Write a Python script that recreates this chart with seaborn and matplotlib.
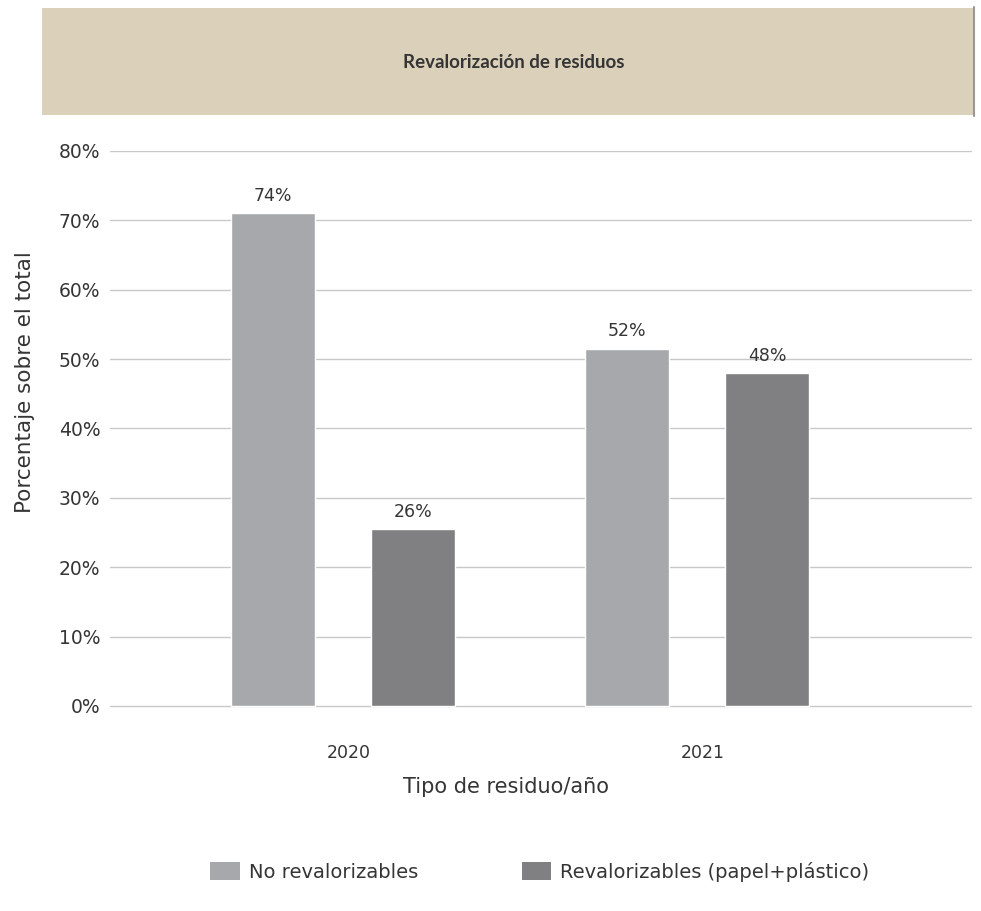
import numpy as np
import pandas as pd
import matplotlib
matplotlib.use('Agg')
import matplotlib.pyplot as plt
import matplotlib.transforms as mtransforms
from matplotlib.patches import Rectangle, Patch
from matplotlib.lines import Line2D
import seaborn as sns

# data
years = ['2020', '2021']
series = ['No revalorizables', 'Revalorizables (papel+plástico)']
no_reval = [71.0, 51.5]
reval = [25.5, 48.0]
no_reval_labels = ['74%', '52%']
reval_labels = ['26%', '48%']
y_ticks = [0, 10, 20, 30, 40, 50, 60, 70, 80]

colors = ['#a7a8ab', '#808083']
text_color = '#353535'

sns.set_style('white')
plt.rcParams['font.family'] = ['DejaVu Sans']

df = pd.DataFrame({
    'year': years * 2,
    'tipo': [series[0]] * 2 + [series[1]] * 2,
    'value': no_reval + reval,
})

fig = plt.figure(figsize=(9.81, 9.11), dpi=100)
# axes: 80% line at y=151 px, 0% line at y=706 px
ax = fig.add_axes([110 / 981, 203 / 911, 862 / 981, 557 / 911])

sns.barplot(data=df, x='year', y='value', hue='tipo', hue_order=series,
            palette=colors, width=0.79, gap=0.4, saturation=1, ax=ax,
            legend=False, errorbar=None)

for cont, labs in zip(ax.containers, [no_reval_labels, reval_labels]):
    ax.bar_label(cont, labels=labs, padding=6, fontsize=12.5, color=text_color)

ax.set_ylim(-0.3, 80)
ax.set_xlim(-0.659, 1.776)
ax.set_yticks(y_ticks)
ax.set_yticklabels([f'{t}%' for t in y_ticks], fontsize=13.5, color=text_color)
ax.tick_params(axis='y', length=0, pad=7)
ax.tick_params(axis='x', length=0, pad=26, labelsize=12.5, labelcolor=text_color)
shift = mtransforms.ScaledTranslation(5 / 100, 0, fig.dpi_scale_trans)
for lab in ax.get_xticklabels():
    lab.set_transform(lab.get_transform() + shift)
ax.yaxis.grid(True, color='#c8c8c8', linewidth=1)
ax.set_axisbelow(True)
for s in ax.spines.values():
    s.set_visible(False)
ax.set_xlabel('')
ax.set_ylabel('')

# header band
fig.patches.append(Rectangle((42 / 981, (911 - 115) / 911), 931 / 981, 107 / 911,
                             transform=fig.transFigure, facecolor='#dbd0b9',
                             edgecolor='none', zorder=0))
fig.add_artist(Line2D([974 / 981, 974 / 981], [(911 - 116) / 911, (911 - 7) / 911],
                      transform=fig.transFigure, color='#9a9690', linewidth=1.5))
fig.text(514 / 981, (911 - 62) / 911, 'Revalorización de residuos', ha='center',
         va='center', fontsize=13.5, fontweight='bold', color=text_color,
         family=['Lato', 'DejaVu Sans'])

fig.text(25 / 981, (911 - 382) / 911, 'Porcentaje sobre el total', rotation=90,
         ha='center', va='center', fontsize=15.5, color=text_color)
fig.text(506 / 981, (911 - 787) / 911, 'Tipo de residuo/año', ha='center',
         va='center', fontsize=15, color=text_color)

handles = [Patch(facecolor=c, edgecolor='none') for c in colors]
fig.legend(handles, series, loc='center', bbox_to_anchor=(540 / 981, 39 / 911),
           ncol=2, frameon=False, fontsize=14, handlelength=1.5, handleheight=1.05,
           columnspacing=5.3, handletextpad=0.5, labelcolor=text_color)

fig.savefig('out.png', dpi=100)
